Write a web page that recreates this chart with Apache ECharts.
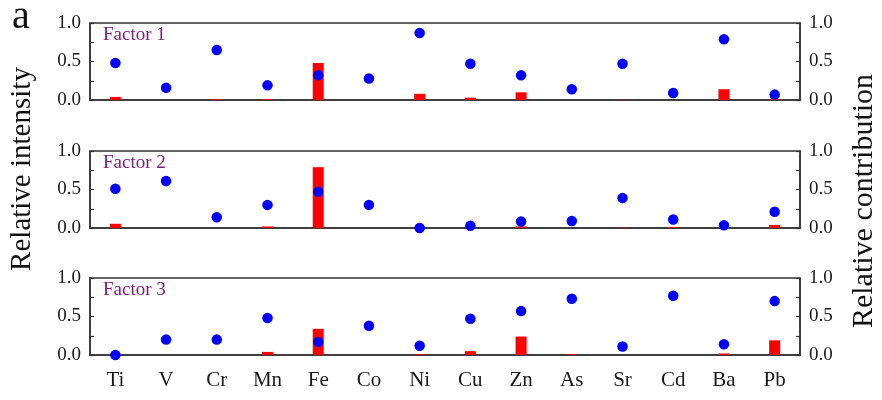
<!DOCTYPE html>
<html><head><meta charset="utf-8">
<script src="https://cdn.jsdelivr.net/npm/echarts@6/dist/echarts.min.js"></script>
<style>html,body{margin:0;padding:0;background:#fff}#c{width:882px;height:400px}</style>
</head><body><div id="c"></div>
<script>
const categories = ['Ti','V','Cr','Mn','Fe','Co','Ni','Cu','Zn','As','Sr','Cd','Ba','Pb'];
const factorNames = ['Factor 1','Factor 2','Factor 3'];
const intensity1 = [0.04,0,0.01,0.01,0.48,0,0.08,0.03,0.10,0,0.004,0,0.14,0.01];
const contribution1 = [0.48,0.16,0.65,0.19,0.32,0.28,0.87,0.47,0.32,0.14,0.47,0.09,0.79,0.07];
const intensity2 = [0.055,0,0,0.02,0.79,0,0,0,0.02,0,0.005,0.01,0,0.04];
const contribution2 = [0.51,0.61,0.14,0.30,0.47,0.30,0.0,0.03,0.085,0.09,0.39,0.11,0.035,0.21];
const intensity3 = [0,0,0,0.04,0.34,0,0.01,0.05,0.24,0.01,0,0,0.02,0.19];
const contribution3 = [0.0,0.20,0.20,0.48,0.17,0.38,0.12,0.47,0.57,0.73,0.11,0.77,0.14,0.70];
const yTicks = [0, 0.5, 1.0];
const leftTitle = 'Relative intensity';
const rightTitle = 'Relative contribution';
const panelLetter = 'a';

const intens = [intensity1, intensity2, intensity3];
const contrib = [contribution1, contribution2, contribution3];
const tops = [23, 151, 278];
const serif = '"Liberation Serif","Times New Roman",serif';
const chart = echarts.init(document.getElementById('c'));
const grid = [], xAxis = [], yAxis = [], series = [], graphic = [];
tops.forEach((t, i) => {
  grid.push({left: 90, right: 82, top: t, height: 77, show: true, borderColor: '#333', borderWidth: 1.5,
    backgroundColor: 'transparent', containLabel: false, outerBoundsMode: 'none'});
  xAxis.push({type: 'category', gridIndex: i, data: categories, boundaryGap: true,
    axisLine: {show: true, lineStyle: {color: '#333', width: 1.5}}, axisTick: {show: false},
    axisLabel: {show: i === 2, fontFamily: serif, fontSize: 21, color: '#1a1a1a', margin: 15}});
  const yCommon = {type: 'value', gridIndex: i, min: yTicks[0], max: yTicks[yTicks.length - 1], interval: 0.5,
    splitLine: {show: false},
    axisLine: {show: true, lineStyle: {color: '#333', width: 1.5}},
    axisTick: {show: true, inside: true, length: 4, lineStyle: {color: '#333', width: 1.2}},
    minorTick: {show: true, splitNumber: 2, length: 4, lineStyle: {color: '#333', width: 1.2}},
    axisLabel: {fontFamily: serif, fontSize: 19, color: '#1a1a1a', margin: 9, formatter: v => v.toFixed(1)}};
  yAxis.push(Object.assign({}, yCommon, {position: 'left'}));
  yAxis.push(Object.assign({}, yCommon, {position: 'right'}));
  series.push({type: 'bar', xAxisIndex: i, yAxisIndex: 2 * i, data: intens[i], barWidth: 11,
    itemStyle: {color: '#ff0000', opacity: 1}, z: 2});
  series.push({type: 'scatter', xAxisIndex: i, yAxisIndex: 2 * i + 1, data: contrib[i], symbolSize: 10.5,
    itemStyle: {color: '#0000ff', opacity: 1}, z: 3});
  graphic.push({type: 'text', x: 103, y: t + 12, style: {text: factorNames[i], font: '19px ' + serif,
    fill: '#7a1a7a', verticalAlign: 'middle', align: 'left'}});
});
graphic.push({type: 'text', x: 12, y: 17, style: {text: panelLetter, font: '40px ' + serif, fill: '#111',
  verticalAlign: 'middle', align: 'left'}});
graphic.push({type: 'text', x: 22, y: 169, rotation: Math.PI / 2, style: {text: leftTitle, font: '29px ' + serif,
  fill: '#111', verticalAlign: 'middle', align: 'center'}});
graphic.push({type: 'text', x: 864, y: 201, rotation: Math.PI / 2, style: {text: rightTitle, font: '30px ' + serif,
  fill: '#111', verticalAlign: 'middle', align: 'center'}});
chart.setOption({animation: false, grid, xAxis, yAxis, series, graphic});
</script></body></html>
